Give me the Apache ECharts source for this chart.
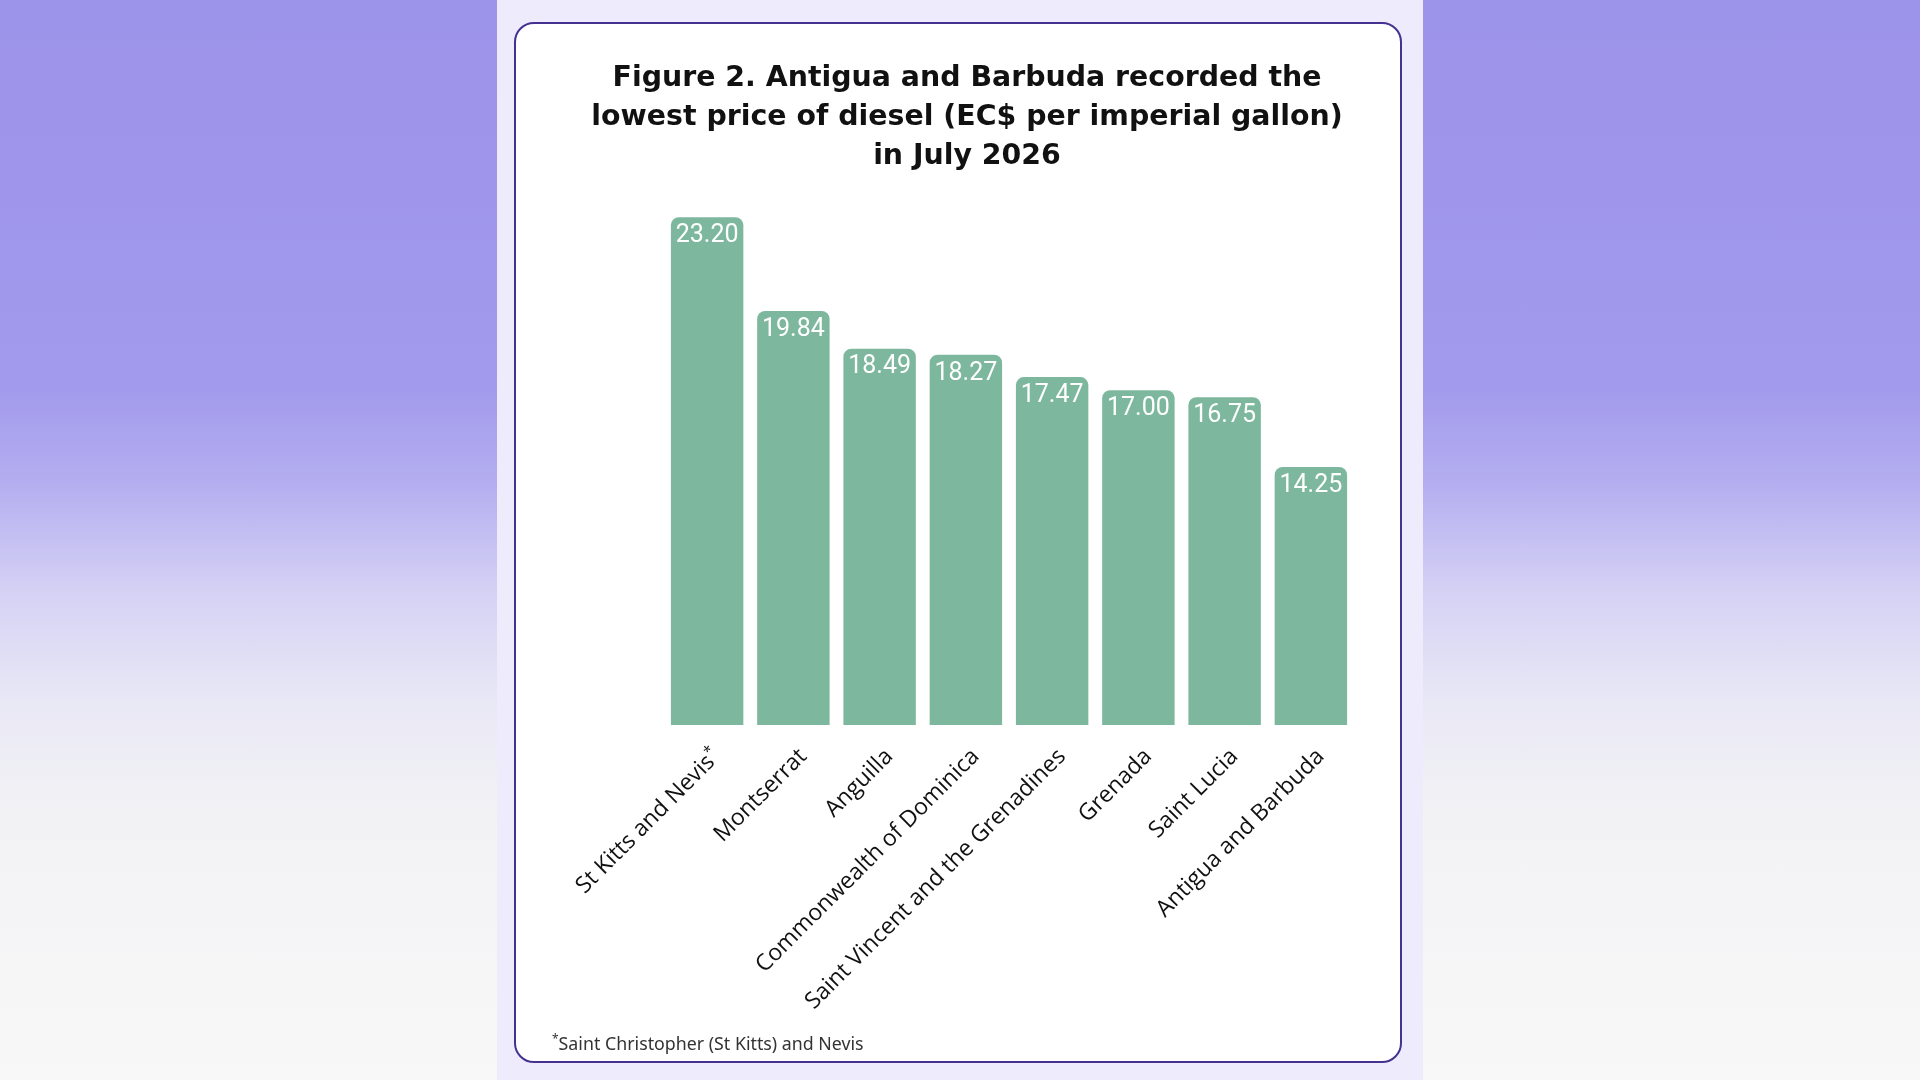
<!DOCTYPE html>
<html>
<head>
<meta charset="utf-8">
<script src="https://cdn.jsdelivr.net/npm/echarts@6/dist/echarts.min.js"></script>
<style>
  html, body { margin: 0; padding: 0; width: 1920px; height: 1080px; overflow: hidden; }
  body {
    background: linear-gradient(to bottom, #9c93ea 0%, #a29aec 36%, #b5aff0 45%, #d5d2f5 55%, #e9e8f5 65%, #f2f2f5 75%, #f8f8f8 100%);
  }
  .strip { position: absolute; left: 497px; top: 0; width: 926px; height: 1080px; background: #eeebfd; }
  .card {
    position: absolute; left: 514px; top: 22px; width: 888px; height: 1041px;
    box-sizing: border-box; background: #fff;
    border: 2.5px solid #45318f; border-radius: 20px; overflow: hidden;
  }
  #chart { width: 100%; height: 100%; }
</style>
</head>
<body>
<div class="strip"></div>
<div class="card"><div id="chart"></div></div>
<script>
// 数据
var countries = ['St Kitts and Nevis', 'Montserrat', 'Anguilla', 'Commonwealth of Dominica',
  'Saint Vincent and the Grenadines', 'Grenada', 'Saint Lucia', 'Antigua and Barbuda'];
var prices = [23.20, 19.84, 18.49, 18.27, 17.47, 17.00, 16.75, 14.25];
var titleLines = ['Figure 2. Antigua and Barbuda recorded the',
  'lowest price of diesel (EC$ per imperial gallon)', 'in July 2026'];
var footnote = 'Saint Christopher (St Kitts) and Nevis';

var chart = echarts.init(document.getElementById('chart'));
var option = {
    animation: false,
    grid: { left: 148, right: 46, top: 143, bottom: 336 },
    graphic: [{
        // 标题
        type: 'text',
        style: {
            x: 451, y: 35,
            text: titleLines.join('\n'),
            textAlign: 'center',
            textVerticalAlign: 'top',
            font: 'bold 28.4px "DejaVu Sans"',
            lineHeight: 39,
            fill: '#111'
        }
    }, {
        // 脚注
        type: 'text',
        style: {
            x: 36, y: 1021,
            text: '{s|*}{t|' + footnote + '}',
            textVerticalAlign: 'middle',
            rich: {
                s: { fontSize: 12, fontFamily: 'Noto Sans', fill: '#333', verticalAlign: 'top', lineHeight: 22 },
                t: { fontSize: 17.8, fontFamily: 'Noto Sans', fill: '#333', lineHeight: 22 }
            }
        }
    }],
    xAxis: {
        type: 'category',
        data: countries,
        axisLine: { show: false },
        axisTick: { show: false },
        axisLabel: {
            rotate: 45,
            interval: 0,
            margin: 18,
            fontSize: 23,
            fontFamily: 'Open Sans',
            color: '#111',
            verticalAlign: 'top',
            lineHeight: 28,
            formatter: function (v) {
                if (v === 'St Kitts and Nevis') return '{n|' + v + '}{s|*}';
                return v;
            },
            rich: {
                n: { fontSize: 23, fontFamily: 'Open Sans', color: '#111', lineHeight: 28 },
                s: { fontSize: 15, fontFamily: 'Open Sans', color: '#111', verticalAlign: 'top', lineHeight: 28 }
            }
        }
    },
    yAxis: {
        type: 'value',
        min: 5,
        max: 25,
        show: false,
        splitLine: { show: false }
    },
    series: [{
        type: 'bar',
        data: prices,
        barCategoryGap: '16%',
        itemStyle: { color: '#7db89e', borderRadius: [8, 8, 0, 0] },
        label: {
            show: true,
            position: 'insideTop',
            distance: 6,
            color: '#fff',
            fontSize: 25,
            fontFamily: 'Roboto',
            formatter: function (p) { return p.value.toFixed(2); }
        }
    }]
};
chart.setOption(option);
</script>
</body>
</html>
